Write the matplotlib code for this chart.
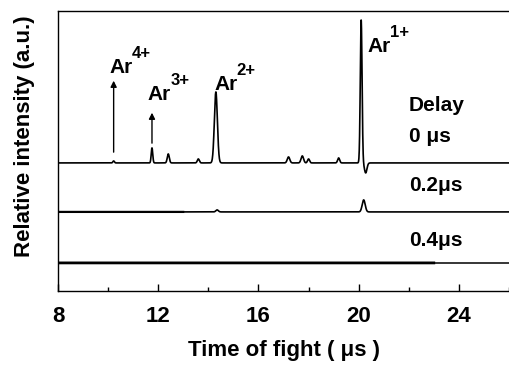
import numpy as np
import matplotlib.pyplot as plt

plt.rcParams['font.family'] = ['Liberation Sans', 'DejaVu Sans']
plt.rcParams['font.weight'] = 'bold'

# time-of-flight axis (us)
t = np.linspace(8, 26, 4000)

# trace baselines (a.u., offset stack)
delays = ['0 \u03bcs', '0.2\u03bcs', '0.4\u03bcs']
baselines = [128, 79, 28]

# peaks for 0 us delay: centre, height, width
peaks0_c = [10.22, 11.75, 12.40, 13.60, 14.30, 17.20, 17.75, 18.00, 19.20, 20.10, 20.28]
peaks0_h = [2, 15, 9, 4, 71, 6, 7, 4, 5, 143, -10]
peaks0_w = [0.03, 0.03, 0.04, 0.04, 0.06, 0.05, 0.05, 0.04, 0.04, 0.035, 0.05]

# peaks for 0.2 us delay
peaks1_c = [14.35, 20.20]
peaks1_h = [2, 12]
peaks1_w = [0.05, 0.06]

# ion labels
ions = ['Ar', 'Ar', 'Ar', 'Ar']
charges = ['4+', '3+', '2+', '1+']
label_x = [10.07, 11.59, 14.25, 20.35]
label_y = [218, 191, 201, 239]


def trace(base, cs, hs, ws):
    y = np.full_like(t, base, dtype=float)
    for c, h, w in zip(cs, hs, ws):
        y += h * np.exp(-(t - c) ** 2 / (2 * w ** 2))
    return y


fig = plt.figure(figsize=(5.09, 3.65), dpi=100)
ax = fig.add_axes([0.114, 0.203, 0.886, 0.767])

ax.plot(t, trace(baselines[0], peaks0_c, peaks0_h, peaks0_w), color='black', lw=1.2)
y1 = trace(baselines[1], peaks1_c, peaks1_h, peaks1_w)
ax.plot(t[t < 13], y1[t < 13], color='black', lw=1.6)
ax.plot(t[t >= 13], y1[t >= 13], color='black', lw=1.2)
y2 = np.full_like(t, baselines[2], dtype=float)
ax.plot(t[t < 23], y2[t < 23], color='black', lw=2.0)
ax.plot(t[t >= 23], y2[t >= 23], color='black', lw=1.1)

# arrows for weak peaks
ax.annotate('', xy=(10.22, 213), xytext=(10.22, 136),
            arrowprops=dict(arrowstyle='-|>', color='black', lw=1.0, mutation_scale=9))
ax.annotate('', xy=(11.75, 181), xytext=(11.75, 145),
            arrowprops=dict(arrowstyle='-|>', color='black', lw=1.0, mutation_scale=9))

for name, ch, x, y in zip(ions, charges, label_x, label_y):
    ax.text(x, y, name, fontsize=15, fontweight='bold', ha='left', va='baseline')
    ax.annotate(ch, xy=(x, y), xytext=(16, 11), textcoords='offset points',
                fontsize=12, fontweight='bold', ha='left', va='baseline')

ax.text(22.0, 180, 'Delay', fontsize=15, fontweight='bold', ha='left', va='baseline')
delay_y = [149, 100, 45]
for lab, y in zip(delays, delay_y):
    ax.text(22.0, y, lab, fontsize=15, fontweight='bold', ha='left', va='baseline')

ax.set_xlim(8, 26)
ax.set_ylim(0, 280)
ax.set_xticks([8, 12, 16, 20, 24])
ax.set_xticks([10, 14, 18, 22, 26], minor=True)
ax.set_yticks([])
ax.tick_params(axis='x', which='major', direction='in', length=5, width=1, labelsize=16, pad=11)
ax.tick_params(axis='x', which='minor', direction='in', length=3, width=1)
ax.spines['right'].set_visible(False)
for s in ['left', 'top', 'bottom']:
    ax.spines[s].set_linewidth(1.0)

ax.set_xlabel('Time of fight ( \u03bcs )', fontsize=16, fontweight='bold', labelpad=9)
ax.set_ylabel('Relative intensity (a.u.)', fontsize=16, fontweight='bold')
ax.yaxis.set_label_coords(-0.05, 0.554)

fig.savefig('out.png', dpi=100)
